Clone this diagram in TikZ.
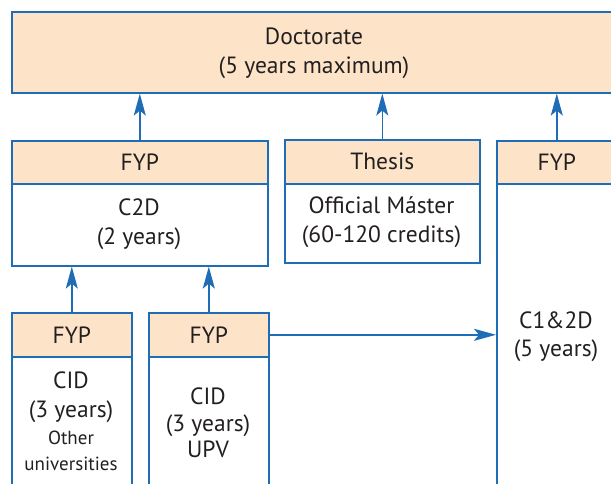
\documentclass[tikz,border=0pt]{standalone}
\usepackage{fontspec}
\setmainfont{PT Sans}
\usetikzlibrary{arrows.meta,calc}
\definecolor{peach}{HTML}{FDE4C9}
\definecolor{lineblue}{HTML}{1F6DB4}
\definecolor{ink}{HTML}{231F20}
\tikzset{
  boxbase/.style={draw=lineblue, line width=1.6pt, rectangle, inner sep=0pt, anchor=north west, text=ink},
  headbox/.style={boxbase, fill=peach},
  bodybox/.style={boxbase, fill=white},
  txt/.style={text=ink, align=center, inner sep=0pt},
  bigfont/.style={font=\fontsize{23.5}{28.5}\selectfont},
  midfont/.style={font=\fontsize{23.5}{26.5}\selectfont},
  smallfont/.style={font=\fontsize{19}{26}\selectfont},
  arr/.style={draw=lineblue, line width=1.6pt, -{Stealth[length=22pt,width=12pt,inset=5pt]}}
}
\begin{document}
\begin{tikzpicture}[x=1pt,y=-1pt]
\useasboundingbox (0,0) rectangle (611,484);
\clip (0,0) rectangle (611,484);
% Doctorate
\node[headbox, minimum width=606pt, minimum height=81pt] (doc) at (11,11) {};
\node[txt, bigfont] (doctxt) at (314,53.5) {Doctorate\\(5 years maximum)};
% C2D
\node[bodybox, minimum width=256pt, minimum height=125pt] (c2dB) at (11,140) {};
\node[headbox, minimum width=256pt, minimum height=43pt] (c2dH) at (11,140) {};
\node[txt, bigfont] at (c2dH.center) {FYP};
\node[txt, bigfont] (c2dtxt) at (139,224) {C2D\\(2 years)};
% Thesis
\node[bodybox, minimum width=195pt, minimum height=123pt] (thB) at (284,139) {};
\node[headbox, minimum width=195pt, minimum height=44pt] (thH) at (284,139) {};
\node[txt, bigfont] at (thH.center) {Thesis};
\node[txt, bigfont] (thtxt) at (381.5,222) {Official Máster\\(60-120 credits)};
% C1&2D
\node[bodybox, minimum width=120pt, minimum height=380pt] (c12B) at (496,140) {};
\node[headbox, minimum width=120pt, minimum height=43pt] (c12H) at (496,140) {};
\node[txt, bigfont] at (c12H.center) {FYP};
\node[txt, bigfont] (c12txt) at (556,336.5) {C1\&2D\\(5 years)};
% CID other
\node[bodybox, minimum width=120pt, minimum height=200pt] (oB) at (11,312) {};
\node[headbox, minimum width=120pt, minimum height=44pt] (oH) at (11,312) {};
\node[txt, bigfont] at (oH.center) {FYP};
\node[txt, bigfont] (otxt1) at (71,397) {CID\\(3 years)};
\node[txt, smallfont] (otxt2) at (71,451) {Other\\universities};
% CID UPV
\node[bodybox, minimum width=120pt, minimum height=200pt] (uB) at (148,312) {};
\node[headbox, minimum width=120pt, minimum height=44pt] (uH) at (148,312) {};
\node[txt, bigfont] at (uH.center) {FYP};
\node[txt, midfont] (utxt1) at (208,423) {CID\\(3 years)\\UPV};
% arrows
\draw[arr] (c2dH.north) -- (c2dH.north |- doc.south);
\draw[arr] (thH.north) -- (thH.north |- doc.south);
\draw[arr] (c12H.north) -- (c12H.north |- doc.south);
\draw[arr] (oH.north) -- (oH.north |- c2dB.south);
\draw[arr] (uH.north) -- (uH.north |- c2dB.south);
\draw[arr] (uH.east) -- (uH.east -| c12B.west);
\end{tikzpicture}
\end{document}
